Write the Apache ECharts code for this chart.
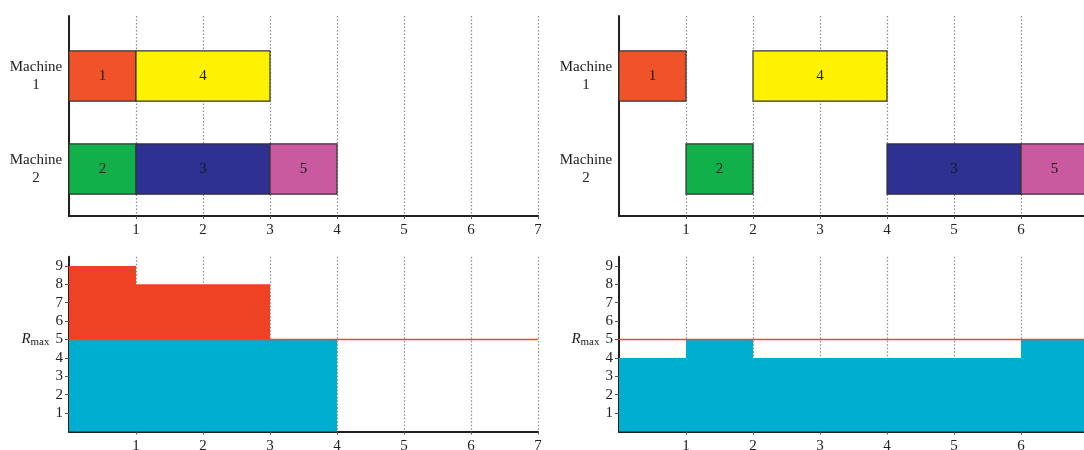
<!DOCTYPE html>
<html><head><meta charset="utf-8">
<script src="https://cdn.jsdelivr.net/npm/echarts@6/dist/echarts.min.js"></script>
<style>html,body{margin:0;padding:0;background:#fff}#c{width:1084px;height:450px}</style>
</head><body><div id="c"></div>
<script>
// ---- data ----
const machineLabels = ['Machine\n1', 'Machine\n2'];
const timeTicks = [1, 2, 3, 4, 5, 6, 7];
const resourceTicks = [1, 2, 3, 4, 5, 6, 7, 8, 9];
const RMAX = 5;
const jobIds = ['1', '2', '3', '4', '5'];
const jobColors = ['#F15328', '#12B04B', '#2E3192', '#FFF200', '#C95A9F'];
// left schedule
const leftMachine = [1, 2, 2, 1, 2];
const leftStart = [0, 0, 1, 1, 3];
const leftEnd = [1, 1, 3, 3, 4];
// right schedule
const rightMachine = [1, 2, 2, 1, 2];
const rightStart = [0, 1, 4, 2, 6];
const rightEnd = [1, 2, 6, 4, 7];
// resource usage (step intervals)
const leftStepStart = [0, 1, 3];
const leftStepEnd = [1, 3, 4];
const leftUsage = [9, 8, 5];
const rightStepStart = [0, 1, 2, 6];
const rightStepEnd = [1, 2, 6, 7];
const rightUsage = [4, 5, 4, 5];

// ---- styling constants ----
const FONT = '"Liberation Serif", "DejaVu Serif", serif';
const AXIS_COLOR = '#231F20';
const BAR_THICK = 0.54;
const CYAN = '#00AFD0';
const RED = '#EF4224';
const RMAX_COLOR = '#EE4A25';

function jobData(m, s, e) {
  return jobIds.map((id, i) => [s[i], e[i], m[i], id, i]);
}
function usageData(s, e, u) {
  return u.map((v, i) => [s[i], e[i], v]);
}

const chart = echarts.init(document.getElementById('c'));

const grids = [
  {left: 69, top: 16, width: 469, height: 200, outerBoundsMode: 'none', containLabel: false},
  {left: 69, top: 256.7, width: 469, height: 174.8, outerBoundsMode: 'none', containLabel: false},
  {left: 619, top: 16, width: 469, height: 200, outerBoundsMode: 'none', containLabel: false},
  {left: 619, top: 256.7, width: 469, height: 174.8, outerBoundsMode: 'none', containLabel: false}
];

function xAxis(gi) {
  return {
    type: 'value', gridIndex: gi, min: 0, max: 7, interval: 1,
    axisLine: {show: true, onZero: false, lineStyle: {color: AXIS_COLOR, width: 2}},
    axisTick: {show: true, length: 3, lineStyle: {color: '#555'}},
    axisLabel: {showMinLabel: false, margin: 7, color: '#222', fontFamily: FONT, fontSize: 15,
      formatter: v => timeTicks.includes(v) ? String(v) : ''},
    splitLine: {show: true, lineStyle: {color: '#8a8a8a', type: [1.5, 2], width: 1.2}}
  };
}
function yMachineAxis(gi) {
  return {
    type: 'value', gridIndex: gi, inverse: true, min: 0.355, max: 2.505,
    axisLine: {show: true, onZero: false, lineStyle: {color: AXIS_COLOR, width: 2}},
    axisTick: {show: false},
    splitLine: {show: false},
    axisLabel: {
      customValues: [1, 2], margin: 33, align: 'center', lineHeight: 18,
      color: '#222', fontFamily: FONT, fontSize: 15,
      formatter: v => (v === 1 || v === 2) ? machineLabels[v - 1] : ''
    }
  };
}
function yResourceAxis(gi) {
  return {
    type: 'value', gridIndex: gi, min: 0, max: 9.5, interval: 1,
    axisLine: {show: true, onZero: false, lineStyle: {color: AXIS_COLOR, width: 2}},
    axisTick: {show: true, length: 4, customValues: resourceTicks, lineStyle: {color: '#555'}},
    splitLine: {show: false},
    axisLabel: {
      customValues: resourceTicks, margin: 6, color: '#222', fontFamily: FONT, fontSize: 15,
      formatter: v => v === RMAX ? '{r|R}{m|max}{g|}' + v : (resourceTicks.includes(v) ? String(v) : ''),
      rich: {
        r: {fontStyle: 'italic', fontFamily: FONT, fontSize: 15, color: '#222'},
        m: {fontFamily: FONT, fontSize: 11, color: '#222', padding: [5, 0, 0, 0]},
        g: {width: 6}
      }
    }
  };
}

function jobSeries(gi, data) {
  return {
    type: 'custom', xAxisIndex: gi, yAxisIndex: gi, clip: false, z: 3,
    encode: {x: [0, 1], y: 2},
    data: data,
    renderItem: (params, api) => {
      const s = api.coord([api.value(0), api.value(2)]);
      const e = api.coord([api.value(1), api.value(2)]);
      const h = Math.abs(api.size([0, BAR_THICK])[1]);
      const idx = api.value(4);
      return {
        type: 'group',
        children: [
          {type: 'rect', shape: {x: s[0], y: s[1] - h / 2, width: e[0] - s[0], height: h},
            style: {fill: jobColors[idx], stroke: '#333', lineWidth: 1.2}},
          {type: 'text', style: {text: jobIds[idx], x: (s[0] + e[0]) / 2, y: s[1],
            align: 'center', verticalAlign: 'middle', font: '15px ' + FONT, fill: '#1a1a1a'}}
        ]
      };
    }
  };
}
function usageSeries(gi, data) {
  return {
    type: 'custom', xAxisIndex: gi, yAxisIndex: gi, clip: false, z: 3,
    encode: {x: [0, 1], y: 2},
    data: data,
    renderItem: (params, api) => {
      const t0 = api.value(0), t1 = api.value(1), u = api.value(2);
      const base = Math.min(u, RMAX);
      const a = api.coord([t0, 0]);
      const b = api.coord([t1, base]);
      const children = [
        {type: 'rect', shape: {x: a[0], y: b[1], width: b[0] - a[0], height: a[1] - b[1]},
          style: {fill: CYAN}}
      ];
      if (u > RMAX) {
        const c = api.coord([t1, u]);
        children.push({type: 'rect', shape: {x: a[0], y: c[1], width: c[0] - a[0], height: b[1] - c[1]},
          style: {fill: RED}});
      }
      return {type: 'group', children};
    }
  };
}
function rmaxLine(gi) {
  return {
    type: 'line', xAxisIndex: gi, yAxisIndex: gi, symbol: 'none', z: 5, silent: true,
    color: RMAX_COLOR,
    itemStyle: {color: RMAX_COLOR},
    data: [[0, RMAX], [7, RMAX]],
    lineStyle: {color: RMAX_COLOR, width: 1.3, opacity: 1}
  };
}

chart.setOption({
  animation: false,
  backgroundColor: '#fff',
  grid: grids,
  xAxis: [xAxis(0), xAxis(1), xAxis(2), xAxis(3)],
  yAxis: [yMachineAxis(0), yResourceAxis(1), yMachineAxis(2), yResourceAxis(3)],
  series: [
    jobSeries(0, jobData(leftMachine, leftStart, leftEnd)),
    usageSeries(1, usageData(leftStepStart, leftStepEnd, leftUsage)),
    rmaxLine(1),
    jobSeries(2, jobData(rightMachine, rightStart, rightEnd)),
    usageSeries(3, usageData(rightStepStart, rightStepEnd, rightUsage)),
    rmaxLine(3)
  ]
});
</script></body></html>
